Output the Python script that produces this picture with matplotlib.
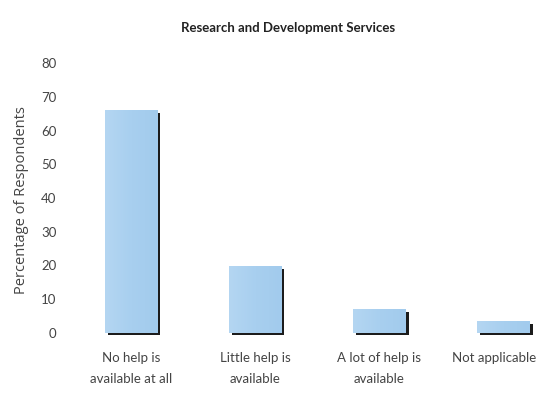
import numpy as np
import matplotlib
matplotlib.use("Agg")
import matplotlib.pyplot as plt
import matplotlib.transforms as mtransforms
from matplotlib.colors import LinearSegmentedColormap

categories = ["No help is\navailable at all", "Little help is\navailable",
              "A lot of help is\navailable", "Not applicable"]
values = [66, 20, 7, 3.5]
yticks = [0, 10, 20, 30, 40, 50, 60, 70, 80]

plt.rcParams["font.family"] = ["Lato", "DejaVu Sans"]

fig = plt.figure(figsize=(5.38, 3.96), dpi=100)
y_lo, y_hi = -1.2, 80
px_per_unit = (333 - 63) / 80
bottom_px = 333 - y_lo * px_per_unit
ax = fig.add_axes([62 / 538, (396 - bottom_px) / 396, (535 - 62) / 538,
                   (bottom_px - 63) / 396])

x = np.arange(len(categories))
w = 0.42
vals = np.array(values)

# dark shadow along the right and bottom edges of each bar
ax.bar(x + 0.028, vals - 0.4, bottom=-0.5, width=w, color="#1c1c1c", zorder=2)

# blue bars with a soft horizontal gradient
cmap = LinearSegmentedColormap.from_list("bar", ["#b4d6f2", "#a8cfef", "#a2cbed"])
grad = np.linspace(0, 1, 64).reshape(1, -1)
bars = ax.bar(x, vals, width=w, color="#a8cfef", zorder=3)
for b in bars:
    im = ax.imshow(grad, cmap=cmap, aspect="auto", zorder=3.5,
                   extent=[b.get_x(), b.get_x() + b.get_width(),
                           b.get_y(), b.get_y() + b.get_height()])
    im.set_clip_path(b)

ax.set_xlim(-0.556, 3.258)
ax.set_ylim(y_lo, y_hi)
ax.set_yticks(yticks)
ax.set_xticks(x)
ax.set_xticklabels(categories, fontsize=8.3, color="#444444", linespacing=1.9)
ax.tick_params(axis="both", length=0, colors="#444444", labelsize=9.5)
ax.tick_params(axis="y", pad=4)
ax.tick_params(axis="x", pad=11)
for s in ax.spines.values():
    s.set_visible(False)

# keep the last category label inside the right edge
last = ax.get_xticklabels()[-1]
last.set_transform(last.get_transform() +
                   mtransforms.ScaledTranslation(-9 / 100, 0, fig.dpi_scale_trans))

ax.set_ylabel("Percentage of Respondents", fontsize=10.5, color="#444444",
              labelpad=9, family=["Open Sans", "DejaVu Sans"])
fig.text(288 / 538, 1 - 28 / 396, "Research and Development Services",
         ha="center", va="center", fontsize=9.5, fontweight="bold", color="#222222")

fig.savefig("out.png", dpi=100, facecolor="white")
